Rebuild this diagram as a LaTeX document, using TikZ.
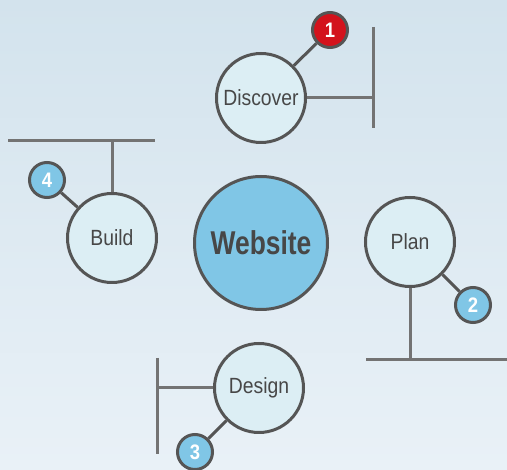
\documentclass[tikz,border=0pt]{standalone}
\usepackage{fontspec}
\setmainfont{Liberation Sans}[FakeStretch=0.88]
\newfontfamily\hubfont{Liberation Sans}[FakeStretch=0.8]
\usepackage{tikz}

\definecolor{bgtop}{HTML}{D3E3ED}
\definecolor{bgbot}{HTML}{E9F1F7}
\definecolor{ringgray}{HTML}{555555}
\definecolor{bargray}{HTML}{737373}
\definecolor{stepfill}{HTML}{DCEEF4}
\definecolor{hubblue}{HTML}{80C6E6}
\definecolor{badgered}{HTML}{D3121C}
\definecolor{textgray}{HTML}{474747}

\tikzset{
  phase/.style={circle, draw=ringgray, line width=3pt, fill=stepfill,
    minimum size=89pt, inner sep=0pt, text=textgray, font=\fontsize{22}{24}\selectfont},
  hub/.style={circle, draw=ringgray, line width=3pt, fill=hubblue,
    minimum size=133pt, inner sep=0pt, text=textgray, font=\hubfont\fontsize{33}{35}\selectfont\bfseries},
  badge/.style={circle, draw=ringgray, line width=3pt, fill=hubblue,
    minimum size=35pt, inner sep=0pt, text=white, font=\fontsize{21}{22}\selectfont\bfseries},
  bar/.style={draw=bargray, line width=3pt},
  link/.style={draw=ringgray, line width=3pt}
}

\begin{document}
\begin{tikzpicture}[x=1pt, y=-1pt]

% Fond dégradé
\shade[top color=bgtop, bottom color=bgbot] (0,0) rectangle (507,470);
\clip (0,0) rectangle (507,470);

% Cercle central
\node[hub] (web) at (261,243) {Website};

% Les quatre étapes
\node[phase] (disc) at (261,98) {Discover};
\node[phase] (plan) at (410,242) {Plan};
\node[phase] (desi) at (259,388) {Design};
\node[phase] (buil) at (112,238) {Build};

% Pastilles numérotées
\node[badge, fill=badgered] (n1) at (330,30) {1};
\node[badge] (n2) at (473,305) {2};
\node[badge] (n3) at (195,452) {3};
\node[badge] (n4) at (47,180) {4};

% Liaisons pastille - étape
\draw[link] (n1) -- (disc);
\draw[link] (n2) -- (plan);
\draw[link] (n3) -- (desi);
\draw[link] (n4) -- (buil);

% Barres en T
\coordinate (d1) at (373,27);
\coordinate (d2) at (373,128);
\coordinate (dm) at (373,98);
\draw[bar] (d1) -- (d2);
\draw[bar] (disc.east) -- (dm);

\coordinate (p1) at (366,360);
\coordinate (p2) at (510,360);
\coordinate (pm) at (410,360);
\draw[bar] (p1) -- (p2);
\draw[bar] (plan.south) -- (pm);

\coordinate (s1) at (157,358);
\coordinate (s2) at (157,454);
\coordinate (sm) at (157,388);
\draw[bar] (s1) -- (s2);
\draw[bar] (desi.west) -- (sm);

\coordinate (b1) at (8,141);
\coordinate (b2) at (155,141);
\coordinate (bm) at (112,141);
\draw[bar] (b1) -- (b2);
\draw[bar] (buil.north) -- (bm);

\end{tikzpicture}
\end{document}
